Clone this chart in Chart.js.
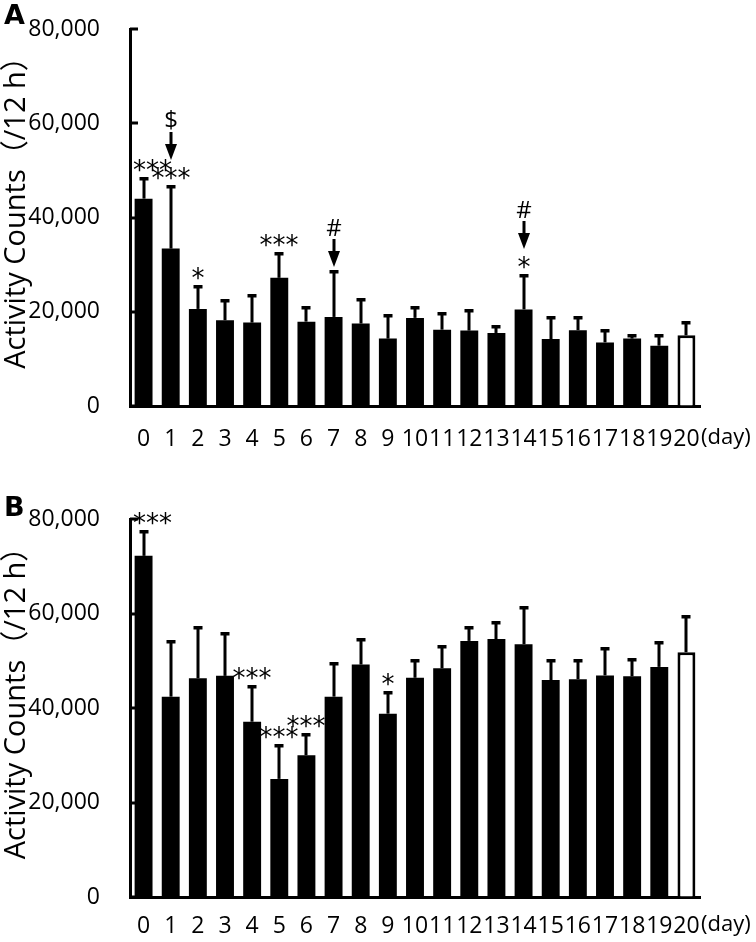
<!DOCTYPE html>
<html lang="en">
<head>
<meta charset="UTF-8">
<title>Activity Counts</title>
<script src="https://cdn.jsdelivr.net/npm/chart.js@4.4.0/dist/chart.umd.min.js"></script>
<style>
    body {
        margin: 0;
        background: #fff;
        width: 756px;
        height: 942px;
        position: relative;
        overflow: hidden;
    }
    .panel {
        position: absolute;
        left: 0;
        width: 756px;
    }
    .letter {
        position: absolute;
        left: 4px;
        font: bold 27px/27px "DejaVu Sans", sans-serif;
        color: #000;
    }
</style>
</head>
<body>
<div class="panel" style="top:0;height:470px"><canvas id="chartA" width="756" height="470"></canvas></div>
<div class="panel" style="top:470px;height:472px"><canvas id="chartB" width="756" height="472"></canvas></div>
<div class="letter" style="top:1px">A</div>
<div class="letter" style="top:493px">B</div>

<script>
// days of the experiment
const days = ['0', '1', '2', '3', '4', '5', '6', '7', '8', '9', '10',
              '11', '12', '13', '14', '15', '16', '17', '18', '19', '20'];

// panel A: mean and SD (counts / 12 h)
const meanA = [44000, 33400, 20600, 18200, 17700, 27200, 17900, 18900, 17500, 14300, 18700,
               16200, 16000, 15500, 20500, 14200, 16100, 13500, 14300, 12800, 15000];
const sdA = [4300, 13200, 4800, 4300, 5800, 5300, 3100, 9800, 5200, 5100, 2400,
             3600, 4300, 1500, 7200, 4700, 2800, 2600, 800, 2300, 2900];
const starsA = ['***', '***', '*', '', '', '***', '', '', '', '', '',
                '', '', '', '*', '', '', '', '', '', ''];
const arrowsA = ['', '$', '', '', '', '', '', '#', '', '', '',
                 '', '', '', '#', '', '', '', '', '', ''];

// panel B
const meanB = [72200, 42400, 46300, 46800, 37100, 25000, 30000, 42400, 49200, 38800, 46400,
               48400, 54200, 54600, 53500, 45900, 46100, 46900, 46700, 48700, 51800];
const sdB = [5200, 11700, 10900, 9000, 7600, 7100, 4400, 7200, 5500, 4500, 3800,
             4700, 2900, 3700, 7900, 4300, 4000, 5900, 3600, 5300, 7600];
const starsB = ['***', '', '', '', '***', '***', '***', '', '', '*', '',
                '', '', '', '', '', '', '', '', '', ''];
const arrowsB = ['', '', '', '', '', '', '', '', '', '', '',
                 '', '', '', '', '', '', '', '', '', ''];

const yTicks = [0, 20000, 40000, 60000, 80000];
const yTitle = 'Activity Counts（/12 h）';
const unitLabel = '(day)';

const FONT = '"Open Sans", "Noto Sans CJK JP", sans-serif';

// 误差线、标记、刻度等
const extrasPlugin = {
    id: 'extras',
    beforeDatasetsDraw(chart) {
        const ctx = chart.ctx;
        const y = chart.scales.y;
        const left = chart.chartArea.left;
        ctx.save();
        ctx.fillStyle = '#000';
        yTicks.forEach(v => {
            const py = Math.round(y.getPixelForValue(v));
            ctx.fillRect(left, py - 1.5, 8, 3);
        });
        ctx.restore();
    },
    afterDatasetsDraw(chart, args, opts) {
        const ctx = chart.ctx;
        const y = chart.scales.y;
        const area = chart.chartArea;
        const bars = chart.getDatasetMeta(0).data;
        const means = opts.means, sds = opts.sds;
        ctx.save();
        ctx.fillStyle = '#000';
        bars.forEach((bar, i) => {
            const x = Math.round(bar.x);
            const y0 = y.getPixelForValue(means[i]);
            const y1 = Math.round(y.getPixelForValue(means[i] + sds[i]));
            ctx.fillRect(x - 1.5, y1, 3, y0 - y1);
            ctx.fillRect(x - 4.5, y1 - 1, 9, 3.5);

            let cur = y1 - 4;
            const star = opts.stars[i];
            if (star) {
                ctx.font = '26px "DejaVu Sans", sans-serif';
                const m = ctx.measureText(star);
                let cx = x;
                if (cx - m.width / 2 < area.left + 3) cx = area.left + 3 + m.width / 2;
                const cy = cur - 9;
                ctx.textAlign = 'center';
                ctx.textBaseline = 'alphabetic';
                ctx.fillText(star, cx, cy + (m.actualBoundingBoxAscent - m.actualBoundingBoxDescent) / 2);
                cur -= 22;
            }
            const arrow = opts.arrows[i];
            if (arrow) {
                ctx.fillRect(x - 1.5, cur - 28, 3, 14);
                ctx.beginPath();
                ctx.moveTo(x - 6, cur - 16);
                ctx.lineTo(x + 6, cur - 16);
                ctx.lineTo(x, cur);
                ctx.closePath();
                ctx.fill();
                ctx.font = '24px ' + FONT;
                const m = ctx.measureText(arrow);
                const cy = cur - 28 - 12;
                ctx.textAlign = 'center';
                ctx.fillText(arrow, x, cy + (m.actualBoundingBoxAscent - m.actualBoundingBoxDescent) / 2);
            }
        });

        // y axis title
        ctx.save();
        ctx.translate(17, (area.top + area.bottom) / 2 - 12);
        ctx.rotate(-Math.PI / 2);
        ctx.font = '29px ' + FONT;
        ctx.textAlign = 'center';
        ctx.textBaseline = 'middle';
        ctx.fillText(yTitle, 0, 0);
        ctx.restore();

        // (day)
        ctx.font = '22px ' + FONT;
        ctx.textAlign = 'left';
        ctx.textBaseline = 'middle';
        ctx.fillText(unitLabel, area.right + 1, area.bottom + opts.dayOffset);
        ctx.restore();
    }
};

function makeChart(id, means, sds, stars, arrows, g) {
    return new Chart(document.getElementById(id), {
        type: 'bar',
        data: {
            labels: days,
            datasets: [{
                data: means,
                backgroundColor: days.map((d, i) => i === days.length - 1 ? '#fff' : '#000'),
                borderColor: '#000',
                borderWidth: days.map((d, i) => i === days.length - 1 ? 3 : 0),
                barPercentage: 0.66,
                categoryPercentage: 1
            }]
        },
        options: {
            responsive: false,
            animation: false,
            layout: { padding: { top: g.top, right: 56, left: 0, bottom: 0 } },
            plugins: {
                legend: { display: false },
                tooltip: { enabled: false },
                extras: { means, sds, stars, arrows, dayOffset: g.dayOffset }
            },
            scales: {
                x: {
                    grid: { display: false, drawTicks: false },
                    border: { display: true, color: '#000', width: 3 },
                    ticks: {
                        autoSkip: false,
                        maxRotation: 0,
                        padding: g.tickPad,
                        color: '#000',
                        font: { family: FONT, size: 23 }
                    },
                    afterFit: s => { s.height = g.xH; }
                },
                y: {
                    min: 0,
                    max: 80000,
                    afterBuildTicks: s => { s.ticks = yTicks.map(v => ({ value: v })); },
                    grid: { drawOnChartArea: false, drawTicks: false },
                    border: { display: true, color: '#000', width: 3 },
                    ticks: {
                        padding: 30,
                        color: '#000',
                        font: { family: FONT, size: 23 }
                    },
                    // tick padding would otherwise push the plot area down
                    afterFit: s => { s.width = 130; s.paddingTop = 0; s.paddingBottom = 0; }
                }
            }
        },
        plugins: [extrasPlugin]
    });
}

const chartA = makeChart('chartA', meanA, sdA, starsA, arrowsA, { top: 29, xH: 64, tickPad: 20, dayOffset: 32 });
const chartB = makeChart('chartB', meanB, sdB, starsB, arrowsB, { top: 49, xH: 45, tickPad: 16, dayOffset: 28 });
</script>
</body>
</html>
